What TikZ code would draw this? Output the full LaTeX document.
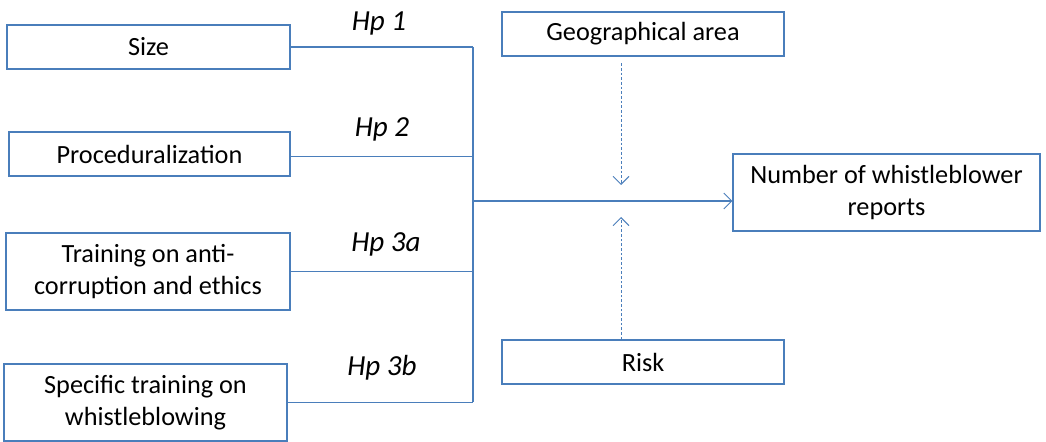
\documentclass[tikz,border=0pt]{standalone}
\usepackage{fontspec}
\setmainfont{Carlito}
\usetikzlibrary{arrows.meta}
\definecolor{boxblue}{RGB}{74,126,187}
\tikzset{
  box/.style={draw=boxblue, line width=0.8pt, inner sep=0pt, align=center,
    font=\fontsize{19.7}{24}\selectfont, text=black},
  conn/.style={draw=boxblue, line width=0.8pt},
  arr/.style={conn, -{Straight Barb[length=6pt,width=12pt,line width=0.7pt]}},
  darr/.style={arr, dash pattern=on 2.2pt off 1.3pt, line width=0.6pt},
  hp/.style={font=\fontsize{21.8}{24}\selectfont\itshape, anchor=base, inner sep=0pt}
}
\begin{document}
\begin{tikzpicture}[x=0.75pt,y=-0.75pt]
\useasboundingbox (0,0) rectangle (1046,442);
\node[box, minimum width=283*0.75pt, minimum height=44*0.75pt] (size) at (148.5,47) {Size};
\node[box, minimum width=281*0.75pt, minimum height=44*0.75pt] (proc) at (149.5,154) {Proceduralization};
\node[box, minimum width=284*0.75pt, minimum height=77*0.75pt] (train) at (148,271.5) {Training on anti-\\corruption and ethics};
\node[box, minimum width=283*0.75pt, minimum height=77*0.75pt] (spec) at (145.5,402.5) {Specific training on\\whistleblowing};
\node[box, minimum width=282*0.75pt, minimum height=44*0.75pt] (geo) at (643,34) {Geographical area};
\node[box, minimum width=307*0.75pt, minimum height=77*0.75pt] (num) at (886.5,192.5) {Number of whistleblower\\reports};
\node[box, minimum width=282*0.75pt, minimum height=44*0.75pt] (risk) at (643,362) {Risk};

\node[hp] (h1) at (379,31) {Hp 1};
\node[hp] (h2) at (382,137) {Hp 2};
\node[hp] (h3a) at (386,251) {Hp 3a};
\node[hp] (h3b) at (382,375) {Hp 3b};

\coordinate (jtop) at (473,47);
\coordinate (jbot) at (473,402);
\coordinate (jmid) at (473,201);
\coordinate (geoend) at (621,185);
\coordinate (riskend) at (621,217);

\draw[conn] (size.east) -- (size.east -| jtop);
\draw[conn] ([yshift=-2.2pt]proc.east) -- ([yshift=-2.2pt]proc.east -| jtop);
\draw[conn] (train.east) -- (train.east -| jtop);
\draw[conn] (spec.east) -- (spec.east -| jtop);
\draw[conn] (jtop) -- (jbot);
\draw[arr] (jmid) -- (jmid -| num.west);
\draw[darr] ([yshift=-5pt]geo.south -| geoend) -- (geoend);
\draw[darr] (risk.north -| riskend) -- (riskend);
\end{tikzpicture}
\end{document}
